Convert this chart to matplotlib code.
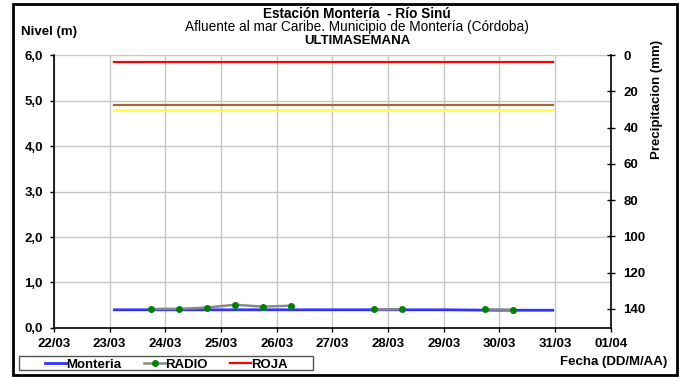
import matplotlib.pyplot as plt
import matplotlib.dates as mdates
import pandas as pd
from matplotlib.patches import Rectangle

plt.rcParams['font.family'] = ['Liberation Sans', 'DejaVu Sans']

# Monteria level (m)
monteria_t = pd.to_datetime(['2013-03-23 02:00', '2013-03-24 00:00', '2013-03-25 00:00',
                             '2013-03-26 00:00', '2013-03-27 00:00', '2013-03-28 00:00',
                             '2013-03-29 00:00', '2013-03-30 00:00', '2013-03-30 23:00'])
monteria_v = [0.40, 0.40, 0.40, 0.40, 0.40, 0.40, 0.40, 0.39, 0.39]

# RADIO readings (gaps where no reading)
radio_t = pd.to_datetime(['2013-03-23 18:00', '2013-03-24 06:00', '2013-03-24 18:00',
                          '2013-03-25 06:00', '2013-03-25 18:00', '2013-03-26 06:00',
                          '2013-03-26 18:00', '2013-03-27 06:00',
                          '2013-03-27 18:00', '2013-03-28 06:00',
                          '2013-03-28 18:00', '2013-03-29 06:00',
                          '2013-03-29 18:00', '2013-03-30 06:00'])
radio_v = [0.42, 0.42, 0.45, 0.51, 0.47, 0.49,
           None, None,
           0.41, 0.41,
           None, None,
           0.41, 0.40]

# threshold lines
umbral_t = pd.to_datetime(['2013-03-23 02:00', '2013-03-30 23:00'])
roja_v = [5.85, 5.85]
naranja_v = [4.9, 4.9]
amarilla_v = [4.8, 4.8]

FS = 9.5

fig = plt.figure(figsize=(6.79, 3.77), dpi=100)
ax = fig.add_axes([0.0795, 0.130, 0.820, 0.724])

ax.plot(umbral_t, roja_v, color='#ff0000', lw=1.6, zorder=3)
ax.plot(umbral_t, naranja_v, color='#9c6a3c', lw=1.6, zorder=3)
ax.plot(umbral_t, amarilla_v, color='#ffff40', lw=2, zorder=3)
l_mon, = ax.plot(monteria_t, monteria_v, color='#3333ff', lw=2, zorder=4)
radio_s = pd.Series(radio_v, index=radio_t, dtype=float)
l_rad, = ax.plot(radio_s.index, radio_s.values, color='#888888', lw=1.8,
                 marker='o', ms=4, mfc='#008000', mec='#008000', zorder=5)

ax.set_xlim(pd.Timestamp('2013-03-22'), pd.Timestamp('2013-04-01'))
ax.set_ylim(0, 6)
ax.set_yticks([0, 1, 2, 3, 4, 5, 6])
ax.set_yticklabels(['0,0', '1,0', '2,0', '3,0', '4,0', '5,0', '6,0'])
ax.xaxis.set_major_locator(mdates.DayLocator())
ax.xaxis.set_major_formatter(mdates.DateFormatter('%d/%m'))
ax.grid(True, color='#c8c8c8', lw=1)
ax.set_axisbelow(True)
ax.spines['top'].set_visible(False)
for s in ['left', 'bottom', 'right']:
    ax.spines[s].set_linewidth(1.2)
ax.tick_params(axis='both', labelsize=FS, length=3, width=1)
ax.tick_params(axis='x', pad=4)
ax.tick_params(axis='y', pad=5)
for lab in ax.get_xticklabels() + ax.get_yticklabels():
    lab.set_fontweight('bold')

# precipitation axis (inverted)
ax2 = ax.twinx()
ax2.set_ylim(150.5, 0)
ax2.set_yticks([0, 20, 40, 60, 80, 100, 120, 140])
ax2.tick_params(axis='y', labelsize=FS, length=6, direction='inout', width=1, pad=6)
for lab in ax2.get_yticklabels():
    lab.set_fontweight('bold')
for s in ax2.spines.values():
    s.set_visible(False)

fig.text(0.526, 0.963, 'Estación Montería  - Río Sinú', ha='center', va='center',
         fontsize=9.8, fontweight='bold')
fig.text(0.526, 0.928, 'Afluente al mar Caribe. Municipio de Montería (Córdoba)',
         ha='center', va='center', fontsize=9.8)
fig.text(0.526, 0.891, 'ULTIMASEMANA', ha='center', va='center',
         fontsize=FS, fontweight='bold')
fig.text(0.031, 0.915, 'Nivel (m)', ha='left', va='center', fontsize=FS, fontweight='bold')
fig.text(0.968, 0.735, 'Precipitacion (mm)', ha='center', va='center', rotation=90,
         fontsize=FS, fontweight='bold')
fig.text(0.982, 0.040, 'Fecha (DD/M/AA)', ha='right', va='center', fontsize=FS,
         fontweight='bold')

l_roja, = ax.plot([], [], color='#ff0000', lw=1.6)
leg = fig.legend([l_mon, l_rad, l_roja], ['Monteria', 'RADIO', 'ROJA'], ncol=3,
                 loc='center left', bbox_to_anchor=(0.067, 1 - 364.5 / 377),
                 frameon=False, fontsize=FS, handlelength=1.6, handletextpad=0.0,
                 borderpad=0, columnspacing=1.7, borderaxespad=0)
for t in leg.get_texts():
    t.set_fontweight('bold')

# legend frame
fig.patches.append(Rectangle((19 / 679, 1 - 370 / 377), 294 / 679, 14 / 377,
                             transform=fig.transFigure, fill=False,
                             edgecolor='#555555', lw=1))
# outer border
fig.patches.append(Rectangle((0.019, 0.005), 0.978, 0.984, transform=fig.transFigure,
                             fill=False, edgecolor='black', lw=2))

fig.savefig('out.png', dpi=100)
